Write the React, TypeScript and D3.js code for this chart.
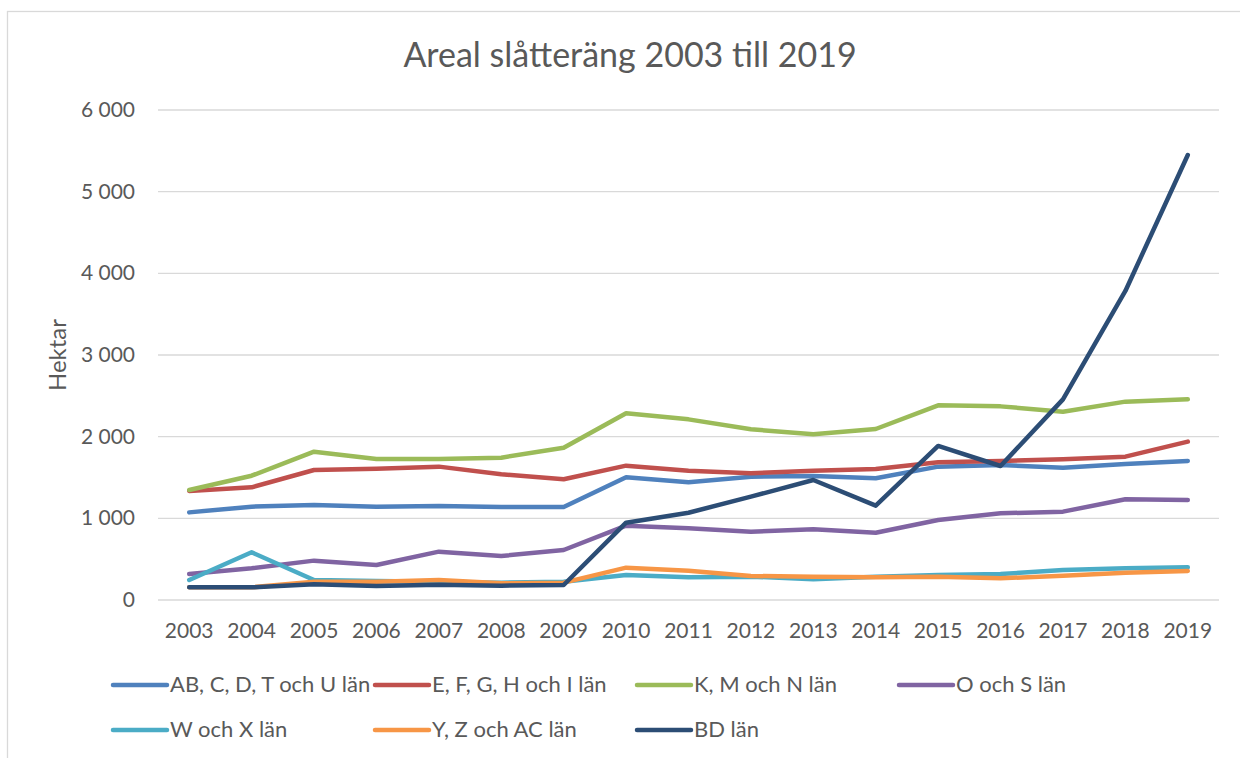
import React from "react";
import * as d3 from "d3";

const years = [
  "2003", "2004", "2005", "2006", "2007", "2008", "2009", "2010", "2011",
  "2012", "2013", "2014", "2015", "2016", "2017", "2018", "2019",
];

const abcdtu = [1073, 1143, 1163, 1143, 1151, 1139, 1139, 1502, 1441, 1510, 1518, 1490, 1633, 1653, 1620, 1665, 1702];
const efghi = [1335, 1380, 1592, 1608, 1633, 1539, 1478, 1645, 1584, 1551, 1584, 1604, 1686, 1702, 1722, 1755, 1939];
const kmn = [1347, 1522, 1816, 1727, 1727, 1743, 1865, 2286, 2212, 2090, 2029, 2094, 2384, 2371, 2306, 2429, 2457];
const os = [318, 388, 482, 429, 592, 539, 612, 910, 878, 837, 865, 824, 980, 1061, 1082, 1233, 1224];
const wx = [245, 584, 245, 233, 224, 212, 224, 306, 278, 286, 253, 286, 306, 318, 367, 388, 400];
const yzac = [155, 155, 224, 224, 245, 204, 212, 396, 359, 294, 286, 278, 286, 265, 298, 335, 355];
const bd = [155, 155, 192, 171, 188, 176, 184, 947, 1069, 1265, 1469, 1155, 1886, 1641, 2457, 3784, 5449];

const seriesNames = [
  "AB, C, D, T och U län",
  "E, F, G, H och I län",
  "K, M och N län",
  "O och S län",
  "W och X län",
  "Y, Z och AC län",
  "BD län",
];
const seriesValues = [abcdtu, efghi, kmn, os, wx, yzac, bd];
const seriesColors = ["#4f81bd", "#c0504d", "#9bbb59", "#8064a2", "#4bacc6", "#f79646", "#2c4d75"];

const yTicks = [0, 1000, 2000, 3000, 4000, 5000, 6000];

const width = 1240;
const height = 758;
const plot = { left: 158, right: 1219, top: 110, bottom: 600 };
const font = "Lato, 'Open Sans', sans-serif";
const textColor = "#595959";

const fmt = d3.formatLocale({ decimal: ",", thousands: " ", grouping: [3], currency: ["", " kr"] }).format(",d");

export default function App() {
  const x = d3.scalePoint<string>().domain(years).range([plot.left, plot.right]).padding(0.5);
  const y = d3.scaleLinear().domain([0, 6000]).range([plot.bottom, plot.top]);
  const line = d3
    .line<number>()
    .x((_, i) => x(years[i]) as number)
    .y((d) => y(d));

  const legendCols = [113, 375, 637, 899];
  const legendRows = [685, 730];

  return (
    <svg
      width={width}
      height={height}
      style={{ position: "absolute", left: 0, top: 0, background: "#fff" }}
      fontFamily={font}
    >
      <rect x={0} y={0} width={width} height={height} fill="#fff" />
      <rect x={7.5} y={11.5} width={1400} height={900} fill="none" stroke="#d9d9d9" strokeWidth={1.3} />

      <text x={630} y={67} textAnchor="middle" fontSize={34} fill={textColor}>
        Areal slåtteräng 2003 till 2019
      </text>

      {yTicks.map((t) => (
        <g key={t}>
          <line x1={plot.left} x2={plot.right} y1={y(t)} y2={y(t)} stroke="#d9d9d9" strokeWidth={1.3} />
          <text x={135} y={y(t) + 7} textAnchor="end" fontSize={21} fill={textColor}>
            {fmt(t)}
          </text>
        </g>
      ))}

      {years.map((yr) => (
        <text key={yr} x={x(yr)} y={638} textAnchor="middle" fontSize={21} fill={textColor}>
          {yr}
        </text>
      ))}

      <text
        transform={`translate(66, ${(plot.top + plot.bottom) / 2}) rotate(-90)`}
        textAnchor="middle"
        fontSize={24}
        fill={textColor}
      >
        Hektar
      </text>

      {seriesValues.map((vals, i) => (
        <path
          key={seriesNames[i]}
          d={line(vals) || ""}
          fill="none"
          stroke={seriesColors[i]}
          strokeWidth={4.5}
          strokeLinecap="round"
          strokeLinejoin="round"
        />
      ))}

      {seriesNames.map((name, i) => {
        const lx = legendCols[i % 4];
        const ly = legendRows[Math.floor(i / 4)];
        return (
          <g key={name}>
            <line x1={lx} x2={lx + 54} y1={ly} y2={ly} stroke={seriesColors[i]} strokeWidth={4.5} strokeLinecap="round" />
            <text x={lx + 57} y={ly + 7} fontSize={22} fill={textColor}>
              {name}
            </text>
          </g>
        );
      })}
    </svg>
  );
}
